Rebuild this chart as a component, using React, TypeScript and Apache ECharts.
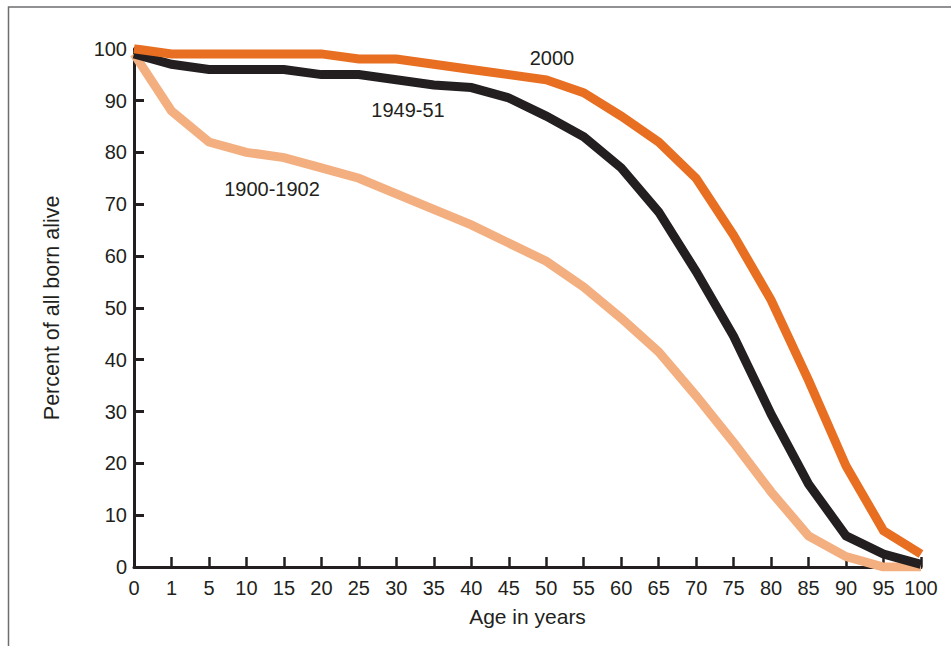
import React, { useEffect, useRef } from "react";
import * as echarts from "echarts";

const ages = ["0","1","5","10","15","20","25","30","35","40","45","50","55","60","65","70","75","80","85","90","95","100"];
const survival2000 = [100,99,99,99,99,99,98,98,97,96,95,94,91.5,87,82,75,64,51.5,36,19.5,7,2.5];
const survival1949 = [99,97,96,96,96,95,95,94,93,92.5,90.5,87,83,77,68.5,57,44.5,29.5,16,6,2.5,0.5];
const survival1900 = [99,88,82,80,79,77,75,72,69,66,62.5,59,54,48,41.5,33,24,14.5,6,2,0,0];
const seriesNames = ["1900-1902", "1949-51", "2000"];
const yTicks = { min: 0, max: 100, interval: 10 };

const INK = "#231f20";
const FONT = "'Liberation Sans', Arial, Helvetica, sans-serif";

export default function App() {
  const ref = useRef<HTMLDivElement>(null);
  useEffect(() => {
    if (!ref.current) return;
    const chart = echarts.init(ref.current, null, { renderer: "svg" });
    const lineSeries = (name: string, data: number[], color: string, z: number) => ({
      name,
      type: "line",
      data,
      symbol: "none",
      z,
      lineStyle: { color, width: 9, join: "miter", cap: "butt" },
      silent: true,
    });
    chart.setOption({
      animation: false,
      backgroundColor: "#ffffff",
      textStyle: { fontFamily: FONT, color: INK },
      grid: { left: 134, right: 30, top: 48.7, bottom: 79 },
      xAxis: {
        type: "category",
        data: ages,
        boundaryGap: false,
        name: "Age in years",
        nameLocation: "middle",
        nameGap: 39,
        nameTextStyle: { fontSize: 21, color: INK, fontFamily: FONT },
        axisLine: { show: true, lineStyle: { color: INK, width: 3 } },
        axisTick: { show: true, inside: true, length: 10, interval: 0, lineStyle: { color: INK, width: 2.5 } },
        axisLabel: { interval: 0, margin: 11, fontSize: 20, color: INK, fontFamily: FONT },
        splitLine: { show: false },
      },
      yAxis: {
        type: "value",
        min: yTicks.min,
        max: yTicks.max,
        interval: yTicks.interval,
        name: "Percent of all born alive",
        nameLocation: "middle",
        nameGap: 71,
        nameTextStyle: { fontSize: 21.5, color: INK, fontFamily: FONT },
        axisLine: { show: true, lineStyle: { color: INK, width: 3 } },
        axisTick: { show: true, inside: true, length: 10, lineStyle: { color: INK, width: 3 } },
        axisLabel: { margin: 7, fontSize: 20, color: INK, fontFamily: FONT },
        splitLine: { show: false },
      },
      series: [
        lineSeries(seriesNames[0], survival1900, "#f3af80", 2),
        lineSeries(seriesNames[1], survival1949, "#231f20", 3),
        lineSeries(seriesNames[2], survival2000, "#e86f21", 4),
      ],
      graphic: [
        {
          type: "rect",
          silent: true,
          shape: { x: 8.5, y: 7, width: 1000, height: 1000 },
          style: { fill: "none", stroke: "#6d6e70", lineWidth: 1.5 },
        },
        {
          type: "text",
          x: 552, y: 58,
          style: { text: seriesNames[2], fontSize: 20, fontFamily: FONT, fill: INK, align: "center", verticalAlign: "middle" },
        },
        {
          type: "text",
          x: 408, y: 110,
          style: { text: seriesNames[1], fontSize: 20, fontFamily: FONT, fill: INK, align: "center", verticalAlign: "middle" },
        },
        {
          type: "text",
          x: 272, y: 189,
          style: { text: seriesNames[0], fontSize: 20, fontFamily: FONT, fill: INK, align: "center", verticalAlign: "middle" },
        },
      ],
    });
    return () => chart.dispose();
  }, []);
  return (
    <div
      ref={ref}
      style={{ position: "fixed", left: 0, top: 0, width: 951, height: 646, background: "#fff" }}
    />
  );
}
